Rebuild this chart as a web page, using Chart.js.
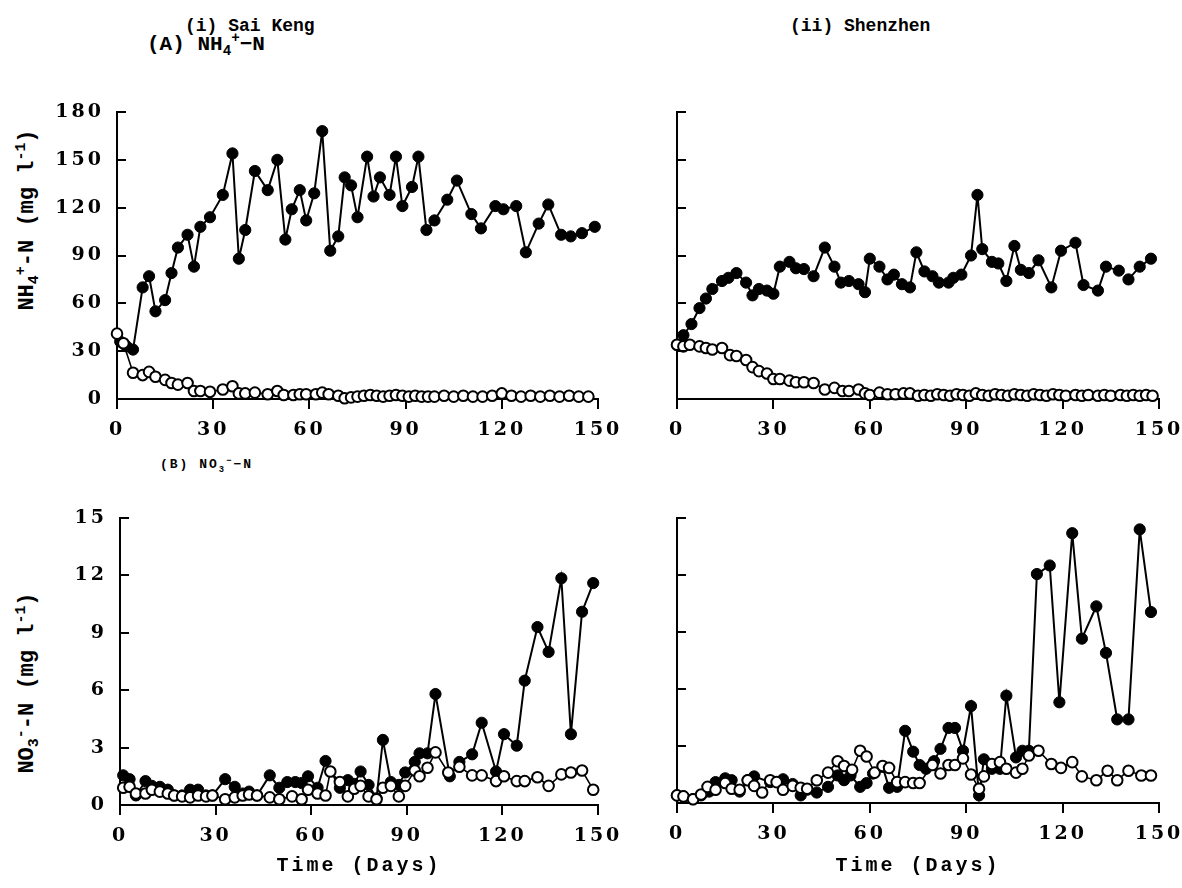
<!DOCTYPE html>
<html><head><meta charset="utf-8">
<script src="https://cdn.jsdelivr.net/npm/chart.js@4.4.1/dist/chart.umd.min.js"></script>
<style>
html,body{margin:0;padding:0;background:#fff;width:1182px;height:888px;overflow:hidden;position:relative}
canvas{position:absolute}
.lbl{position:absolute;font-family:"Liberation Mono",monospace;font-weight:bold;color:#000;white-space:nowrap;font-size:18px;line-height:1}
.ytitle{transform:translate(-50%,-50%) rotate(-90deg);font-size:22px}
sub,sup{font-size:0.68em;line-height:0}
</style></head>
<body>
<div class="lbl" style="left:185px;top:17px">(i) Sai Keng</div>
<div class="lbl" style="left:790px;top:17px">(ii) Shenzhen</div>
<div class="lbl" style="left:147px;top:34px;font-size:21px">(A) NH<sub>4</sub><sup>+</sup>&minus;N</div>
<div class="lbl" style="left:160px;top:458px;font-size:13px;letter-spacing:2px">(B) NO<sub>3</sub><sup>&minus;</sup>&minus;N</div>
<div class="lbl ytitle" style="left:28px;top:220px">NH<sub>4</sub><sup>+</sup>-N (mg l<sup>-1</sup>)</div>
<div class="lbl ytitle" style="left:28px;top:683px">NO<sub>3</sub><sup>-</sup>-N (mg l<sup>-1</sup>)</div>

<canvas id="c1" width="635" height="349" style="left:0;top:100px"></canvas>
<canvas id="c2" width="560" height="349" style="left:640px;top:100px"></canvas>
<canvas id="c3" width="635" height="388" style="left:0;top:500px"></canvas>
<canvas id="c4" width="560" height="388" style="left:640px;top:500px"></canvas>

<script>
// ---- Tick values ----
const dayTicks = [0, 30, 60, 90, 120, 150];
const nh4Ticks = [0, 30, 60, 90, 120, 150, 180];
const no3Ticks = [0, 3, 6, 9, 12, 15];

// ---- (i) Sai Keng, NH4+-N ----
const skNH4FilledDays = [1,3,5,8,10,12,15,17,19,22,24,26,29,33,36,38,40,43,47,50,52.5,54.5,57,59,61.5,64,66.5,69,71,73,75,78,80,82,85,87,89,92,94,96.5,99,103,106,110.5,113.5,118,120.5,124.5,127.5,131.5,134.5,138.5,141.5,145,149];
const skNH4Filled = [36,33,31,70,77,55,62,79,95,103,83,108,114,128,154,88,106,143,131,150,100,119,131,112,129,168,93,102,139,134,114,152,127,139,128,152,121,133,152,106,112,125,137,116,107,121,119,121,92,110,122,103,102,104,108];
const skNH4OpenDays = [0,2,5,8,10,12,15,17,19,22,24,26,29,33,36,38,40,43,47,50,52,55,57,59,62,64,66,69,71,73,75,77,79,81,83,85,87,89,91,93,95,97,99,102,105,108,111,114,117,120,123,126,129,132,135,138,141,144,147];
const skNH4Open = [41,35,16.5,15,17,14,12,10,9,10,5,5,4.5,6,8,3.5,3.5,4,3,5,2.5,2.5,3,3,3,4,3,2,0.5,1,1.5,2,2.5,2,1.5,2,2.5,2,1.5,2,1.5,1.5,1.5,2,1.5,2,1.5,1.5,2,3.5,2,1.5,2,1.5,2,1.5,2,1.5,1.5];

// ---- (ii) Shenzhen, NH4+-N ----
const szNH4FilledDays = [0,2,4.5,7,9,11,14,16,18.5,21.5,23.5,25.5,28,30,32,35,37,39.5,41,42.5,46,49,51,53.5,56.5,58.5,60,63,65.5,67.5,70,72.5,74.5,77,79.5,81.5,84.5,86,88.5,91.5,93.5,95,98,100,102.5,105,107,109.5,112.5,116.5,119.5,124,126.5,131,133.5,137.5,139,140.5,144,147.5];
const szNH4Filled = [34,40,47,57,63,69,74,76,79,73,65,69,68,66,83,86,82,81.5,null,77,95,83,73,74,72,67,88,83,75,78,72,70,92,80,77,73,73,76,78,90,128,94,86,85,74,96,81,79,87,70,93,98,71.5,68,83,80.5,null,75,83,88];
const szNH4OpenDays = [0,2,4,7,9,11,14,16.5,18.5,21.5,23.5,25.5,28,30,32,35,37,39.5,42.5,46,49,51.5,53.5,56.5,58.5,60,63,65.5,68,70.5,72.5,75,77,79,81,83,85,87,89,91,93,95,97,99,101,103,105,107,109,111,113,115,117,119,121,124,126,128,131,133,135,138,140,142,144,146,148];
const szNH4Open = [34,33,34,33,32,31,32,27.5,27,24.5,20,17.5,16,12.5,12.5,11.5,10.5,10.5,10,6,7,5,5,6,3.5,2.5,4,3,3,3.5,3.5,2,2.5,2,3,2.5,2,3,2.5,2,3.5,2.5,2,3,2.5,2,3,2.5,2,3,2.5,2,3,2.5,2,2.5,2,2.5,2,2.5,2,2.5,2,2.5,2,2.5,2];

// ---- (i) Sai Keng, NO3--N ----
const skNO3FilledDays = [1,3,5,8,10,12.5,15,17,19.5,22,24.5,27,29,33,36,38.5,40.5,43,47,50,52.5,55,57,59,62,64.5,69,71.5,73.5,75.5,78,80.5,82.5,85,87.5,89.5,92.5,94,96.5,99,103.5,106.5,110.5,113.5,118,120.5,124.5,127,131,134.5,138.5,141.5,145,148.5];
const skNO3Filled = [1.55,1.35,0.5,1.25,1.0,0.95,0.8,0.5,0.5,0.8,0.8,0.5,0.5,1.35,0.95,0.6,0.7,0.5,1.55,0.9,1.2,1.2,1.15,1.5,0.9,2.3,0.9,1.3,1.1,1.75,1.05,0.35,3.4,1.2,1.05,1.7,2.25,2.7,2.7,5.8,1.5,2.25,2.65,4.3,1.75,3.7,3.1,6.5,9.3,8.0,11.85,3.7,10.1,11.6];
const skNO3OpenDays = [1,3,5,8,10,12.5,15,17,19.5,22,24.5,27,29,33,36,38.5,40.5,43,47,50,54,57,59,62,64.5,66,69,71.5,73.5,75.5,78,80.5,82.5,85,87.5,89.5,92.5,94,96.5,99,103,106.5,110.5,113.5,118,120.5,124.5,127,131,134.5,138.5,141.5,145,148.5];
const skNO3Open = [0.9,0.95,0.6,0.6,0.8,0.7,0.6,0.5,0.45,0.4,0.5,0.45,0.5,0.3,0.4,0.5,0.55,0.5,0.4,0.3,0.45,0.3,0.8,0.6,0.5,1.75,1.2,0.45,0.85,1.0,0.45,0.3,0.9,1.0,0.45,1.0,1.8,1.5,1.95,2.75,1.7,2.0,1.55,1.55,1.25,1.5,1.25,1.25,1.45,1.0,1.6,1.7,1.8,0.8];

// ---- (ii) Shenzhen, NO3--N ----
const szNO3FilledDays = [0,2,5,7.5,10,12,15,17,19.5,22,24,29,33,36,38.5,40.5,43.5,47,50,52,54,57,59,61,64,66,68.5,71,73.5,75.5,77.5,80,82,84.5,86.5,89,91.5,94,95.5,98,100.5,102.5,105.5,107.5,109.5,112,116,119,123,126,130.5,133.5,137,140.5,144,147.5];
const szNO3Filled = [0.4,0.35,0.2,0.4,0.6,1.1,1.3,1.2,0.6,1.2,1.4,1.1,1.25,1.0,0.4,0.7,0.55,0.85,1.45,1.2,1.45,0.85,1.05,1.55,1.9,0.8,0.85,3.8,2.7,2.0,1.8,2.2,2.85,3.95,3.95,2.75,5.1,0.4,2.3,1.8,1.8,5.65,2.4,2.75,2.75,12.05,12.5,5.3,14.2,8.65,10.35,7.9,4.4,4.4,14.4,10.05];
const szNO3OpenDays = [0,2,5,7.5,9.5,12,15,17,19.5,22,24,26.5,29,31,33,36,38.5,40.5,43.5,47,50,52,54.5,57,59,61.5,64,66,68.5,71,73.5,75.5,79.5,82,84.5,86.5,89,91.5,94,95.5,98,100.5,102.5,105.5,107.5,109.5,112.5,116.5,119.5,123,126,130.5,134,137,140.5,144.5,147.5];
const szNO3Open = [0.4,0.35,0.2,0.45,0.85,0.7,1.05,0.75,0.7,1.2,0.9,0.55,1.2,1.1,0.7,0.9,0.8,0.75,1.2,1.6,2.2,1.95,1.75,2.75,2.45,1.6,1.95,1.85,1.1,1.1,1.05,1.05,2.0,1.55,2.0,2.0,2.35,1.5,0.75,1.4,2.05,2.15,1.8,1.6,1.8,2.5,2.75,2.05,1.85,2.15,1.4,1.2,1.7,1.2,1.7,1.45,1.45];

// ---- helpers ----
const SP = '3px';
const spacingPlugin = {
  id: 'spacing',
  beforeLayout(c){ c.ctx.letterSpacing = SP; },
  beforeDraw(c){ c.ctx.letterSpacing = SP; }
};
const yTickIn = {
  id: 'yTickIn',
  afterDraw(chart){
    const ys = chart.scales.y, ctx = chart.ctx, a = chart.chartArea;
    ctx.save();
    ctx.strokeStyle = '#000'; ctx.lineWidth = 2;
    ys.ticks.forEach(t => {
      const p = Math.round(ys.getPixelForValue(t.value));
      ctx.beginPath(); ctx.moveTo(a.left, p); ctx.lineTo(a.left + 9, p); ctx.stroke();
    });
    ctx.restore();
  }
};
const tickFont = {family: '"DejaVu Serif", serif', weight: 'bold', size: 19};

function pts(days, vals){ return days.map((d, i) => ({x: d, y: vals[i]})); }

function makeChart(id, cfg){
  const yTicks = cfg.yTicks;
  new Chart(document.getElementById(id), {
    type: 'line',
    data: {
      datasets: [
        {data: pts(cfg.openDays, cfg.open), borderColor: '#000', borderWidth: 1.6,
         pointRadius: 5.3, pointBackgroundColor: '#fff', pointBorderColor: '#000', pointBorderWidth: 2,
         tension: 0, clip: false, spanGaps: false},
        {data: pts(cfg.filledDays, cfg.filled), borderColor: '#000', borderWidth: 2,
         pointRadius: 5.6, pointBackgroundColor: '#000', pointBorderColor: '#000', pointBorderWidth: 1,
         tension: 0, clip: false, spanGaps: false}
      ]
    },
    options: {
      responsive: false, animation: false,
      layout: {autoPadding: false, padding: {top: cfg.padTop, right: cfg.padRight, left: 0, bottom: 0}},
      plugins: {legend: {display: false}, tooltip: {enabled: false}},
      scales: {
        x: {
          type: 'linear', min: dayTicks[0], max: dayTicks[dayTicks.length - 1],
          afterBuildTicks(s){ s.ticks = dayTicks.map(v => ({value: v})); },
          ticks: {color: '#000', font: tickFont, padding: 10, maxRotation: 0, autoSkip: false},
          grid: {display: true, drawOnChartArea: false, drawTicks: true, tickLength: 10, color: '#000', lineWidth: 2},
          border: {display: true, color: '#000', width: 2},
          title: cfg.xTitle ? {display: true, text: 'Time (Days)', color: '#000',
                  font: {family: '"Liberation Mono", monospace', weight: 'bold', size: 20}, padding: {top: 0, bottom: 10}} : {display: false},
          afterFit(s){ s.height = cfg.xH; s.paddingLeft = 0; s.paddingRight = 0; }
        },
        y: {
          type: 'linear', min: yTicks[0], max: yTicks[yTicks.length - 1],
          afterBuildTicks(s){ s.ticks = yTicks.map(v => ({value: v})); },
          ticks: {display: cfg.yLabels, color: '#000', font: tickFont, padding: 13, autoSkip: false},
          grid: {display: true, drawOnChartArea: false, drawTicks: false, color: '#000'},
          border: {display: true, color: '#000', width: 2},
          afterFit(s){ s.width = cfg.yW; s.paddingTop = 0; s.paddingBottom = 0; }
        }
      }
    },
    plugins: [spacingPlugin, yTickIn]
  });
}

makeChart('c1', {yTicks: nh4Ticks, filledDays: skNH4FilledDays, filled: skNH4Filled, openDays: skNH4OpenDays, open: skNH4Open,
  padTop: 12, padRight: 37, yW: 117, xH: 50, yLabels: true, xTitle: false});
makeChart('c2', {yTicks: nh4Ticks, filledDays: szNH4FilledDays, filled: szNH4Filled, openDays: szNH4OpenDays, open: szNH4Open,
  padTop: 12, padRight: 41, yW: 37, xH: 50, yLabels: false, xTitle: false});
makeChart('c3', {yTicks: no3Ticks, filledDays: skNO3FilledDays, filled: skNO3Filled, openDays: skNO3OpenDays, open: skNO3Open,
  padTop: 18, padRight: 37, yW: 120, xH: 83, yLabels: true, xTitle: true});
makeChart('c4', {yTicks: no3Ticks, filledDays: szNO3FilledDays, filled: szNO3Filled, openDays: szNO3OpenDays, open: szNO3Open,
  padTop: 18, padRight: 41, yW: 37, xH: 85, yLabels: false, xTitle: true});
</script>
</body></html>
